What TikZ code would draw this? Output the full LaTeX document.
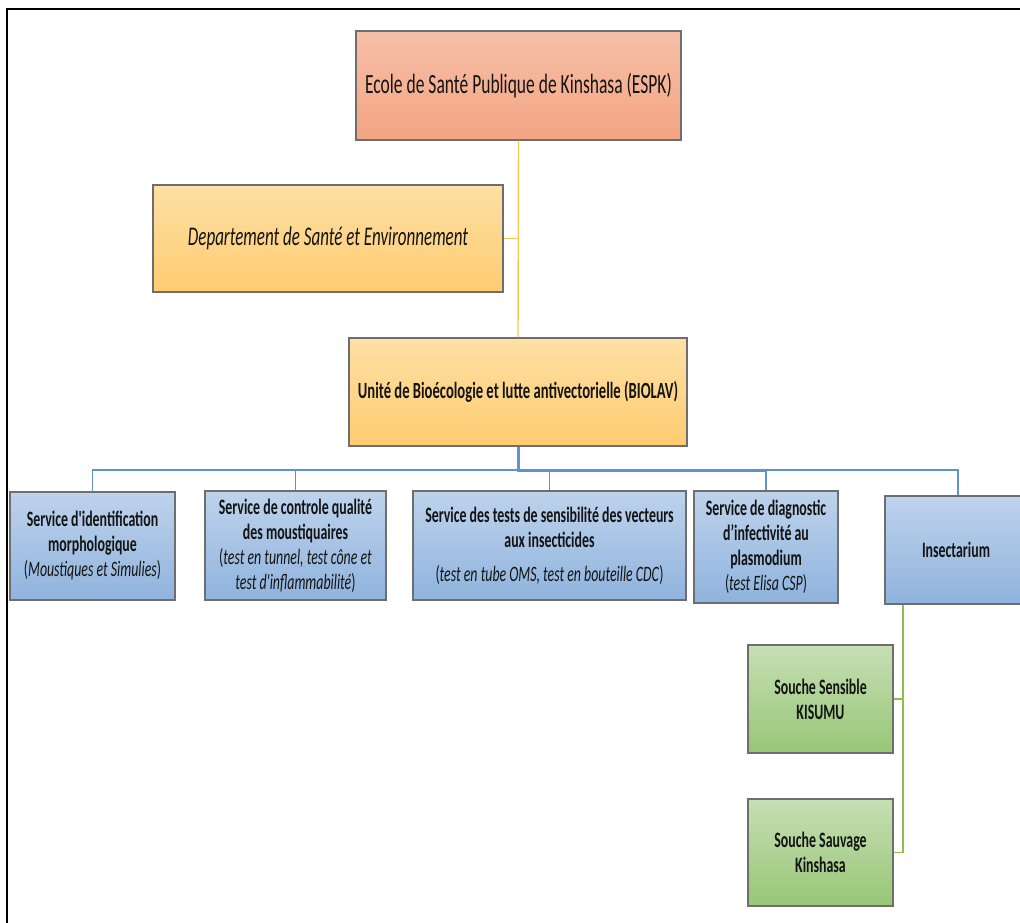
\documentclass[tikz,border=0pt]{standalone}
\usepackage{fontspec}
\setmainfont{Carlito}[FakeStretch=0.63, Ligatures=TeXOff]
\definecolor{salmonT}{RGB}{246,192,168}
\definecolor{salmonB}{RGB}{244,164,130}
\definecolor{orT}{RGB}{253,224,165}
\definecolor{orB}{RGB}{255,204,112}
\definecolor{blT}{RGB}{190,211,236}
\definecolor{blB}{RGB}{143,179,221}
\definecolor{grT}{RGB}{198,223,180}
\definecolor{grB}{RGB}{152,198,118}
\definecolor{bord}{RGB}{110,110,110}
\definecolor{orLine}{RGB}{247,200,80}
\definecolor{blLine}{RGB}{95,146,207}
\definecolor{grLine}{RGB}{140,190,80}
\definecolor{txt}{RGB}{20,20,20}
\tikzset{
  boxbase/.style={draw=bord, line width=1.1pt, align=center, inner sep=2pt, text=txt},
  espkbox/.style={boxbase, top color=salmonT, bottom color=salmonB, font=\fontsize{27.8}{30}\selectfont},
  orbox/.style={boxbase, top color=orT, bottom color=orB},
  bluebox/.style={boxbase, top color=blT, bottom color=blB, font=\bfseries\fontsize{22}{25}\selectfont},
  greenbox/.style={boxbase, top color=grT, bottom color=grB, font=\bfseries\fontsize{22}{25}\selectfont},
  orline/.style={draw=orLine, line width=1.4pt},
  blthin/.style={draw=blLine, line width=1.4pt},
  blthick/.style={draw=blLine, line width=3pt},
  grline/.style={draw=grLine, line width=1.4pt},
  frame/.style={draw=black, line width=2.2pt}
}
\newcommand{\itl}[1]{{\mdseries(\textit{#1})}}
\newcommand{\itlopen}[1]{{\mdseries(\textit{#1}}}
\newcommand{\itlclose}[1]{{\mdseries\textit{#1})}}
\begin{document}
\begin{tikzpicture}[x=1pt,y=-1pt]
\useasboundingbox (0,0) rectangle (1020,923);
% frame
\coordinate (fTR) at (1030,9);
\coordinate (fTL) at (7,9);
\coordinate (fBL) at (7,930);
\draw[frame] (fTR) -- (fTL) -- (fBL);

\node[espkbox, minimum width=325pt, minimum height=109pt] (espk) at (518.5,85.5)
  {Ecole de Santé Publique de Kinshasa (ESPK)};
\node[orbox, minimum width=350pt, minimum height=107pt, font=\itshape\fontsize{27}{30}\selectfont] (dept) at (328,238.5)
  {Departement de Santé et Environnement};
\node[orbox, minimum width=338pt, minimum height=108pt, font=\bfseries\fontsize{23.2}{26}\selectfont] (biolav) at (518,392)
  {Unité de Bioécologie et lutte antivectorielle (BIOLAV)};

\node[bluebox, minimum width=165pt, minimum height=108pt] (b1) at (92.5,546)
  {Service d'identification\\morphologique\\\itl{Moustiques et Simulies}};
\node[bluebox, minimum width=181pt, minimum height=109pt] (b2) at (295.5,545.5)
  {Service de controle qualité\\des moustiquaires\\\itlopen{test en tunnel, test cône et}\\\itlclose{test d'inflammabilité}};
\node[bluebox, minimum width=273pt, minimum height=109pt] (b3) at (549.5,545.5)
  {Service des tests de sensibilité des vecteurs\\aux insecticides\\[9pt]\itl{test en tube OMS, test en bouteille CDC}};
\node[bluebox, minimum width=144pt, minimum height=112pt] (b4) at (766,547)
  {Service de diagnostic\\d’infectivité au\\plasmodium\\\itl{test Elisa CSP}};
\node[bluebox, minimum width=142pt, minimum height=108pt] (ins) at (956,550)
  {Insectarium};

\node[greenbox, minimum width=145pt, minimum height=108pt] (g1) at (820.5,699)
  {Souche Sensible\\KISUMU};
\node[greenbox, minimum width=145pt, minimum height=107pt] (g2) at (820.5,852.5)
  {Souche Sauvage\\Kinshasa};

% orange connectors
\draw[orline] (espk.south) -- (biolav.north);
\draw[orline] (dept.east) -- (dept.east -| espk.south);

% blue connectors
\coordinate (bus) at (518,470);
\draw[blthin] (b1.north) |- (bus);
\draw[blthin] (b2.north) |- (bus);
\draw[blthin] (b3.north) |- (bus);
\draw[blthin] (b4.north) |- (bus);
\draw[blthin] ([xshift=2pt]ins.north) |- (bus);
\draw[blthick] (biolav.south) |- (b4.north |- bus);

% green connectors
\coordinate (gt) at ([xshift=-53pt]ins.south);
\draw[grline] (gt) |- (g2.east);
\draw[grline] (g1.east) -- (g1.east -| gt);
\end{tikzpicture}
\end{document}
